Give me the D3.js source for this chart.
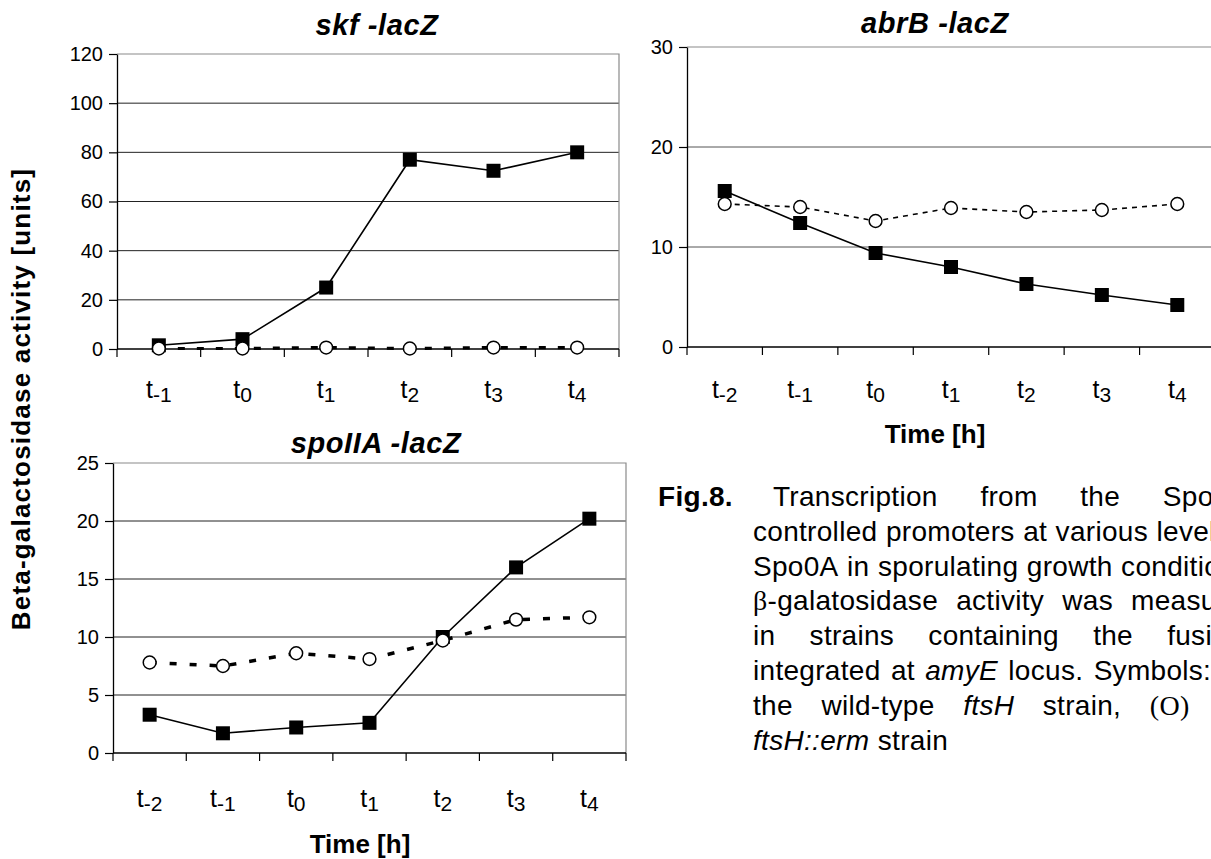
<!DOCTYPE html>
<html>
<head>
<meta charset="utf-8">
<script src="https://cdn.jsdelivr.net/npm/d3@7"></script>
<style>
  html, body { margin: 0; padding: 0; background: #fff; overflow: hidden; }
  svg { display: block; font-family: "Liberation Sans", Arial, sans-serif; }
</style>
</head>
<body>
<div id="fig"></div>
<script>
// ---- data ----
const catsSkf = ["-1", "0", "1", "2", "3", "4"];
const catsLong = ["-2", "-1", "0", "1", "2", "3", "4"];

const skfWild = [1.5, 4, 25, 77, 72.5, 80];
const skfMutant = [0.2, 0.2, 0.6, 0.2, 0.6, 0.6];

const abrbWild = [15.6, 12.4, 9.4, 8.0, 6.3, 5.2, 4.2];
const abrbMutant = [14.3, 14.0, 12.6, 13.9, 13.5, 13.7, 14.3];

const spoWild = [3.3, 1.7, 2.2, 2.6, 10.0, 16.0, 20.2];
const spoMutant = [7.8, 7.5, 8.6, 8.1, 9.7, 11.5, 11.7];

const skfTicks = [0, 20, 40, 60, 80, 100, 120];
const abrbTicks = [0, 10, 20, 30];
const spoTicks = [0, 5, 10, 15, 20, 25];

const yLabel = "Beta-galactosidase activity [units]";
const xLabel = "Time [h]";

// caption lines: _italic_, ~serif~
const captionLines = [
  "Transcription from the Spo0A-",
  "controlled promoters at various levels of",
  "Spo0A in sporulating growth conditions.",
  "~β~-galatosidase activity was measured",
  "in strains containing the fusions",
  "integrated at _amyE_ locus. Symbols: (■)",
  "the wild-type _ftsH_ strain, ~(O)~ the",
  "_ftsH::erm_ strain"
];

const FONT = '"Liberation Sans", Arial, sans-serif';
const SERIF = '"Liberation Serif", "Times New Roman", serif';

const svg = d3.select("#fig").append("svg")
  .attr("width", 1211)
  .attr("height", 859);

svg.append("rect").attr("width", 1211).attr("height", 859).attr("fill", "#fff");

function panel(p) {
  const g = svg.append("g");
  const x = d3.scaleBand().domain(p.cats).range([p.left, p.right]);
  const y = d3.scaleLinear().domain([0, p.max]).range([p.bottom, p.top]);
  const cx = d => x(d) + x.bandwidth() / 2;

  // horizontal grid
  g.append("g").selectAll("line")
    .data(p.ticks.filter(d => d > 0 && d < p.max))
    .join("line")
    .attr("x1", p.left).attr("x2", p.right)
    .attr("y1", d => y(d)).attr("y2", d => y(d))
    .attr("stroke", p.grid).attr("stroke-width", 1);

  // top / right frame
  g.append("path")
    .attr("d", `M${p.left},${y(p.max)}H${p.right}V${y(0)}`)
    .attr("fill", "none").attr("stroke", "#8a8a8a").attr("stroke-width", 1.2);

  // y axis
  const ya = g.append("g")
    .attr("transform", `translate(${p.left},0)`)
    .call(d3.axisLeft(y).tickValues(p.ticks).tickSize(8).tickSizeOuter(0).tickPadding(6));
  ya.select(".domain").attr("stroke", "#000").attr("stroke-width", 1.3);
  ya.selectAll(".tick line").attr("stroke", "#000").attr("stroke-width", 1.2);
  ya.selectAll("text")
    .attr("font-size", 20).attr("font-family", FONT).attr("fill", "#000");

  // x axis: baseline + ticks at band boundaries
  const xa = g.append("g").attr("transform", `translate(0,${y(0)})`);
  xa.append("line")
    .attr("x1", p.left).attr("x2", p.right)
    .attr("stroke", "#000").attr("stroke-width", 1.3);
  const bounds = p.cats.map(c => x(c)).concat([x(p.cats[p.cats.length - 1]) + x.bandwidth()]);
  xa.selectAll("line.tk").data(bounds).join("line")
    .attr("class", "tk")
    .attr("x1", d => d).attr("x2", d => d)
    .attr("y1", 0).attr("y2", 8)
    .attr("stroke", "#000").attr("stroke-width", 1.2);

  const lab = xa.selectAll("text.xl").data(p.cats).join("text")
    .attr("class", "xl")
    .attr("x", d => cx(d))
    .attr("y", p.labelDy)
    .attr("text-anchor", "middle")
    .attr("font-family", FONT)
    .attr("fill", "#000");
  lab.append("tspan").attr("font-size", 25).text("t");
  lab.append("tspan").attr("font-size", 21).attr("dy", 4).text(d => d);

  // title
  g.append("text")
    .attr("x", p.titleX).attr("y", p.titleY)
    .attr("text-anchor", "middle")
    .attr("font-family", FONT)
    .attr("font-size", 29).attr("font-weight", "bold").attr("font-style", "italic")
    .attr("letter-spacing", 0.6)
    .text(p.title);

  if (p.timeX) {
    g.append("text")
      .attr("x", p.timeX).attr("y", p.timeY)
      .attr("text-anchor", "middle")
      .attr("font-family", FONT)
      .attr("font-size", 26).attr("font-weight", "bold")
      .text(xLabel);
  }

  const wild = p.cats.map((c, i) => ({ c, v: p.wild[i] }));
  const mut = p.cats.map((c, i) => ({ c, v: p.mutant[i] }));
  const line = d3.line().x(d => cx(d.c)).y(d => y(d.v));

  g.append("path").datum(wild)
    .attr("d", line).attr("fill", "none")
    .attr("stroke", "#000").attr("stroke-width", 1.6);
  g.selectAll("rect.sq").data(wild).join("rect")
    .attr("class", "sq")
    .attr("x", d => cx(d.c) - 7).attr("y", d => y(d.v) - 7)
    .attr("width", 14).attr("height", 14)
    .attr("fill", "#000");

  g.append("path").datum(mut)
    .attr("d", line).attr("fill", "none")
    .attr("stroke", "#000").attr("stroke-width", p.dashW)
    .attr("stroke-dasharray", p.dash);
  g.selectAll("circle.ci").data(mut).join("circle")
    .attr("class", "ci")
    .attr("cx", d => cx(d.c)).attr("cy", d => y(d.v))
    .attr("r", 6.4)
    .attr("fill", "#fff").attr("stroke", "#000").attr("stroke-width", 1.5);
}

panel({
  cats: catsSkf, wild: skfWild, mutant: skfMutant, ticks: skfTicks, max: 120,
  left: 117, right: 619, top: 54, bottom: 349, grid: "#222",
  labelDy: 49, title: "skf -lacZ", titleX: 377, titleY: 35,
  dash: "7,12", dashW: 3.2
});

panel({
  cats: catsLong, wild: abrbWild, mutant: abrbMutant, ticks: abrbTicks, max: 30,
  left: 687, right: 1215, top: 47, bottom: 347, grid: "#555",
  labelDy: 51, title: "abrB -lacZ", titleX: 935, titleY: 33,
  dash: "5,5", dashW: 1.6, timeX: 935, timeY: 443
});

panel({
  cats: catsLong, wild: spoWild, mutant: spoMutant, ticks: spoTicks, max: 25,
  left: 113, right: 626, top: 463, bottom: 753, grid: "#222",
  labelDy: 54, title: "spoIIA -lacZ", titleX: 376, titleY: 453,
  dash: "7,13", dashW: 3.5, timeX: 360, timeY: 853
});

// shared y label
svg.append("text")
  .attr("transform", "translate(30,399) rotate(-90)")
  .attr("text-anchor", "middle")
  .attr("font-family", FONT)
  .attr("font-size", 26).attr("font-weight", "bold")
  .attr("letter-spacing", 1.2)
  .text(yLabel);

// ---- caption ----
const cap = svg.append("g").attr("font-family", FONT).attr("font-size", 28)
  .attr("letter-spacing", 0.3).attr("fill", "#000");

cap.append("text")
  .attr("x", 658).attr("y", 506)
  .attr("font-weight", "bold")
  .text("Fig.8.");

function parseWord(w) {
  const segs = [];
  let italic = false, serif = false, buf = "";
  for (const ch of w) {
    if (ch === "_" || ch === "~") {
      if (buf) segs.push({ t: buf, italic, serif });
      buf = "";
      if (ch === "_") italic = !italic; else serif = !serif;
    } else buf += ch;
  }
  if (buf) segs.push({ t: buf, italic, serif });
  return segs;
}

const lineStep = 34.8;
const spaceW = 8.5;
captionLines.forEach((ln, i) => {
  const startX = i === 0 ? 773 : 753;
  const endX = 1258;
  const yy = 506 + i * lineStep;
  const words = ln.split(" ");
  const nodes = words.map(w => {
    const t = cap.append("text").attr("y", yy);
    parseWord(w).forEach(s => {
      t.append("tspan")
        .attr("font-style", s.italic ? "italic" : "normal")
        .attr("font-family", s.serif ? SERIF : FONT)
        .text(s.t);
    });
    return t;
  });
  const widths = nodes.map(n => n.node().getComputedTextLength());
  const total = d3.sum(widths);
  const last = i === captionLines.length - 1;
  const gap = last ? spaceW : Math.max(spaceW, (endX - startX - total) / (words.length - 1));
  let cur = startX;
  nodes.forEach((n, k) => {
    n.attr("x", cur);
    cur += widths[k] + gap;
  });
});
</script>
</body>
</html>
